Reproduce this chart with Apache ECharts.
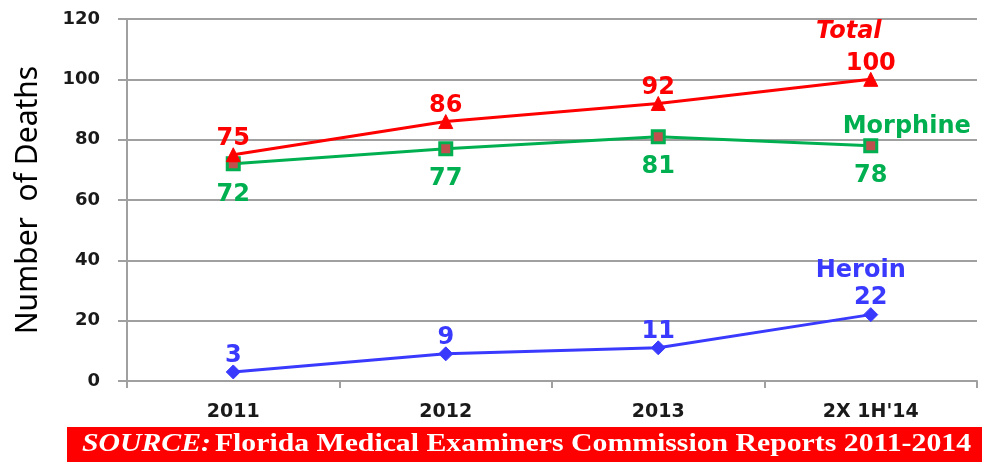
<!DOCTYPE html>
<html>
<head>
<meta charset="utf-8">
<script src="https://cdn.jsdelivr.net/npm/echarts@6/dist/echarts.min.js"></script>
<style>
  html, body { margin: 0; padding: 0; background: #fff; }
  #chart1 { width: 982px; height: 462px; }
</style>
</head>
<body>
<div id="chart1"></div>
<script>
var categories = ['2011', '2012', '2013', "2X 1H'14"];
var totalData = [75, 86, 92, 100];
var morphineData = [72, 77, 81, 78];
var heroinData = [3, 9, 11, 22];
var sourceText = 'Florida Medical Examiners Commission Reports 2011-2014';

var RED = '#ff0000', GREEN = '#00b050', BLUE = '#3a3aff';
var last = categories.length - 1;

// series name written next to the last point
function nameMark(name, value, color, offset, italic) {
  return {
    symbol: 'circle',
    symbolSize: 1,
    silent: true,
    itemStyle: { color: 'rgba(0,0,0,0)' },
    label: {
      show: true,
      position: 'inside',
      formatter: name,
      offset: offset,
      color: color,
      fontFamily: 'DejaVu Sans',
      fontWeight: 'bold',
      fontStyle: italic ? 'italic' : 'normal',
      fontSize: 24
    },
    data: [{ coord: [last, value] }]
  };
}

function valueLabel(color, pos, dist) {
  return {
    show: true,
    position: pos,
    distance: dist,
    color: color,
    fontFamily: 'DejaVu Sans',
    fontWeight: 'bold',
    fontSize: 24
  };
}

var chart = echarts.init(document.getElementById('chart1'));
chart.setOption({
  animation: false,
  grid: { left: 127, right: 5, top: 19, bottom: 81 },
  xAxis: {
    type: 'category',
    data: categories,
    boundaryGap: true,
    axisLine: { lineStyle: { color: '#a0a0a0', width: 2 } },
    axisTick: { show: true, length: 7, lineStyle: { color: '#a0a0a0', width: 2 } },
    axisLabel: { color: '#1a1a1a', fontFamily: 'DejaVu Sans', fontWeight: 'bold', fontSize: 19, margin: 22 }
  },
  yAxis: {
    type: 'value',
    min: 0, max: 120, interval: 20,
    name: 'Number  of Deaths',
    nameLocation: 'middle',
    nameGap: 84,
    nameTextStyle: { color: '#000', fontFamily: 'Noto Sans', fontSize: 30 },
    axisLine: { show: true, lineStyle: { color: '#a0a0a0', width: 2 } },
    axisTick: { show: true, length: 9, lineStyle: { color: '#a0a0a0', width: 2 } },
    axisLabel: { color: '#1a1a1a', fontFamily: 'DejaVu Sans', fontWeight: 'bold', fontSize: 18, margin: 27 },
    splitLine: { lineStyle: { color: '#a0a0a0', width: 2 } }
  },
  series: [
    {
      name: 'Total', type: 'line', data: totalData,
      symbol: 'triangle', symbolSize: 14,
      lineStyle: { color: RED, width: 3 },
      itemStyle: { color: RED, borderColor: RED, borderWidth: 1 },
      label: valueLabel(RED, 'top', -4),
      markPoint: nameMark('Total', totalData[last], RED, [-22, -48], true),
      z: 4
    },
    {
      name: 'Morphine', type: 'line', data: morphineData,
      symbol: 'rect', symbolSize: 12,
      lineStyle: { color: GREEN, width: 3 },
      itemStyle: { color: '#c0504d', borderColor: GREEN, borderWidth: 3 },
      label: valueLabel(GREEN, 'bottom', 11),
      markPoint: nameMark('Morphine', morphineData[last], GREEN, [36, -19], false),
      z: 3
    },
    {
      name: 'Heroin', type: 'line', data: heroinData,
      symbol: 'diamond', symbolSize: 14,
      lineStyle: { color: BLUE, width: 3 },
      itemStyle: { color: BLUE, borderColor: BLUE, borderWidth: 1 },
      label: valueLabel(BLUE, 'top', -3),
      markPoint: nameMark('Heroin', heroinData[last], BLUE, [-10, -44], false),
      z: 3
    }
  ],
  graphic: [
    {
      type: 'rect',
      shape: { x: 67, y: 427, width: 915, height: 35 },
      style: { fill: '#ff0000' },
      silent: true
    },
    {
      type: 'text',
      x: 82, y: 445,
      scaleX: 1.19,
      style: {
        text: '{a|SOURCE:} {b|' + sourceText + '}',
        verticalAlign: 'middle',
        rich: {
          a: { fill: '#fff', fontFamily: 'Liberation Serif', fontStyle: 'italic', fontWeight: 'bold', fontSize: 25 },
          b: { fill: '#fff', fontFamily: 'Liberation Serif', fontWeight: 'bold', fontSize: 25 }
        }
      },
      silent: true
    }
  ]
});
</script>
</body>
</html>
